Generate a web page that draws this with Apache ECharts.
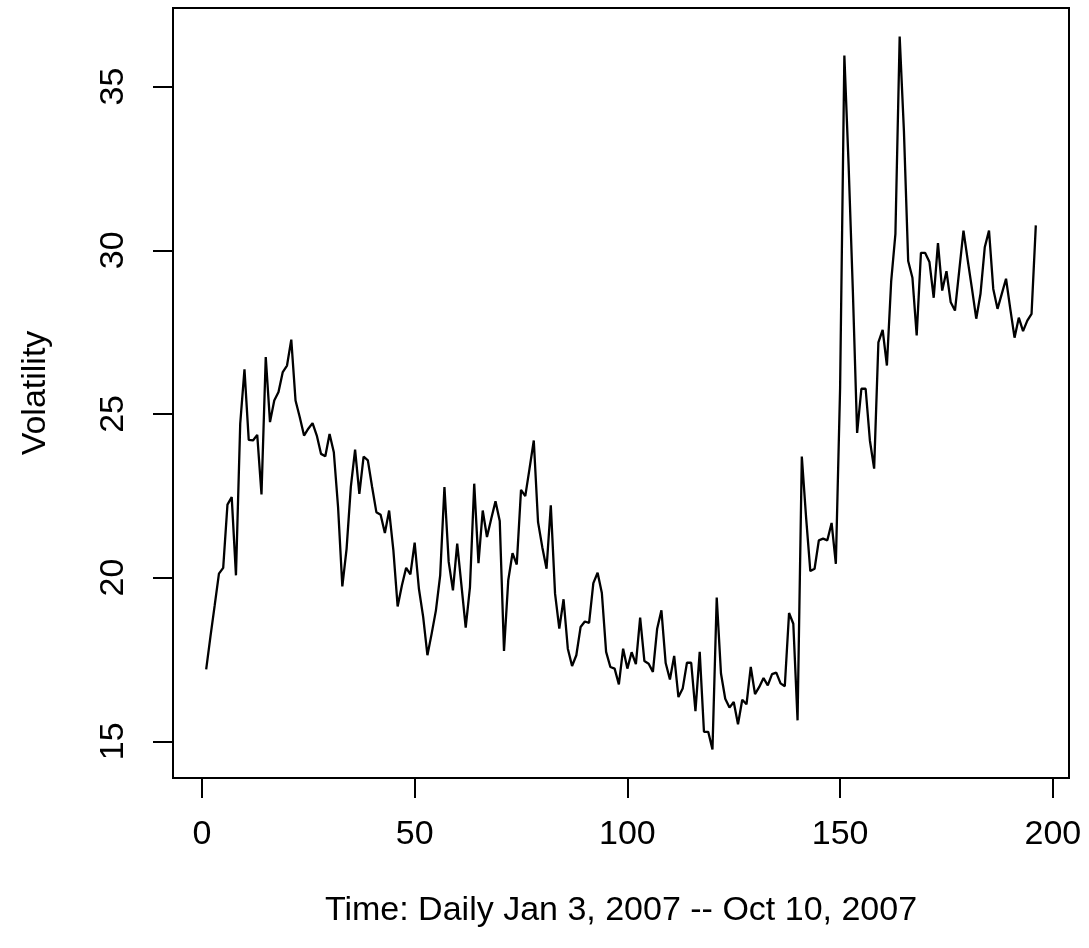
<!DOCTYPE html>
<html lang="en">
  <head>
    <meta charset="UTF-8" />
    <title>Volatility</title>
    <script src="https://cdn.jsdelivr.net/npm/echarts@6/dist/echarts.min.js"></script>
    <style>
      body { margin: 0; background: #fff; }
      #main { width: 1089px; height: 948px; }
    </style>
  </head>
  <body>
    <div id="main"></div>

    <script>
      // daily volatility, one value per trading day (index 1..196)
      const volatility = [
        17.2, 18.2, 19.15, 20.12, 20.3, 22.23, 22.46, 20.07, 24.7, 26.36,
        24.21, 24.19, 24.36, 22.54, 26.74, 24.75, 25.41, 25.67, 26.28, 26.48,
        27.27, 25.41, 24.9, 24.34, 24.55, 24.72, 24.34, 23.78, 23.71, 24.39,
        23.83, 22.15, 19.73, 20.88, 22.77, 23.91, 22.56, 23.7, 23.58, 22.77,
        22.0, 21.92, 21.36, 22.05, 20.83, 19.12, 19.76, 20.3, 20.1, 21.07,
        19.66, 18.8, 17.63, 18.29, 19.0, 20.07, 22.77, 20.48, 19.61, 21.04,
        19.76, 18.47, 19.71, 22.87, 20.44, 22.05, 21.24, 21.8, 22.33, 21.73,
        17.76, 19.92, 20.75, 20.4, 22.68, 22.49, 23.33, 24.19, 21.7, 20.93,
        20.27, 22.21, 19.51, 18.44, 19.34, 17.83, 17.3, 17.63, 18.49, 18.66,
        18.62, 19.83, 20.15, 19.53, 17.73, 17.27, 17.22, 16.74, 17.83, 17.22,
        17.72, 17.36, 18.78, 17.45, 17.37, 17.12, 18.44, 19.0, 17.39, 16.89,
        17.61, 16.35, 16.61, 17.4, 17.4, 15.92, 17.73, 15.29, 15.29, 14.75,
        19.39, 17.07, 16.3, 16.03, 16.2, 15.52, 16.27, 16.13, 17.27, 16.44,
        16.66, 16.93, 16.71, 17.05, 17.1, 16.77, 16.68, 18.92, 18.59, 15.64,
        23.7, 21.85, 20.2, 20.27, 21.14, 21.19, 21.14, 21.67, 20.42, 25.8,
        35.95, 32.6, 28.74, 24.42, 25.77, 25.77, 24.19, 23.33, 27.19, 27.57,
        26.48, 29.04, 30.5, 36.53, 33.64, 29.67, 29.16, 27.4, 29.92, 29.92,
        29.64, 28.55, 30.22, 28.77, 29.36, 28.41, 28.16, 29.38, 30.6, 29.69,
        28.82, 27.91, 28.67, 30.09, 30.6, 28.82, 28.21, 28.67, 29.13, 28.21,
        27.33, 27.94, 27.53, 27.85, 28.06, 30.76
      ];

      const xTicks = [0, 50, 100, 150, 200];
      const yTicks = [15, 20, 25, 30, 35];

      const xTitle = 'Time: Daily Jan 3, 2007 -- Oct 10, 2007';
      const yTitle = 'Volatility';

      const points = volatility.map((v, i) => [i + 1, v]);

      // R style axis range: data range widened by 4% on each side
      function pad(lo, hi) {
        const d = (hi - lo) * 0.04;
        return [lo - d, hi + d];
      }
      const xRange = pad(1, volatility.length);
      const yRange = pad(Math.min(...volatility), Math.max(...volatility));

      const font = 'Liberation Sans, Arial, Helvetica, sans-serif';
      const fontSize = 34;

      const chart = echarts.init(document.getElementById('main'), null, { renderer: 'canvas' });

      chart.setOption({
        animation: false,
        backgroundColor: '#fff',
        grid: {
          left: 173,
          right: 20,
          top: 8,
          bottom: 170,
          show: true,
          borderColor: '#000',
          borderWidth: 2,
          backgroundColor: 'transparent'
        },
        xAxis: {
          type: 'value',
          min: xRange[0],
          max: xRange[1],
          splitLine: { show: false },
          axisLine: { show: false, onZero: false },
          axisTick: {
            show: true,
            inside: false,
            length: 20,
            customValues: xTicks,
            lineStyle: { color: '#000', width: 2 }
          },
          axisLabel: {
            customValues: xTicks,
            margin: 40,
            color: '#000',
            fontFamily: font,
            fontSize: fontSize
          },
          name: xTitle,
          nameLocation: 'middle',
          nameGap: 116,
          nameTextStyle: { color: '#000', fontFamily: font, fontSize: fontSize }
        },
        yAxis: {
          type: 'value',
          min: yRange[0],
          max: yRange[1],
          splitLine: { show: false },
          axisLine: { show: false, onZero: false },
          axisTick: {
            show: true,
            inside: false,
            length: 20,
            customValues: yTicks,
            lineStyle: { color: '#000', width: 2 }
          },
          axisLabel: {
            customValues: yTicks,
            rotate: 90,
            margin: 42,
            color: '#000',
            fontFamily: font,
            fontSize: fontSize
          },
          name: yTitle,
          nameLocation: 'middle',
          nameGap: 120,
          nameRotate: 90,
          nameTextStyle: { color: '#000', fontFamily: font, fontSize: fontSize }
        },
        series: [
          {
            type: 'line',
            data: points,
            showSymbol: false,
            symbol: 'none',
            lineStyle: { color: '#000', width: 2.3 },
            silent: true
          }
        ]
      });

      window.onresize = function () {
        chart.resize();
      };
    </script>
  </body>
</html>
